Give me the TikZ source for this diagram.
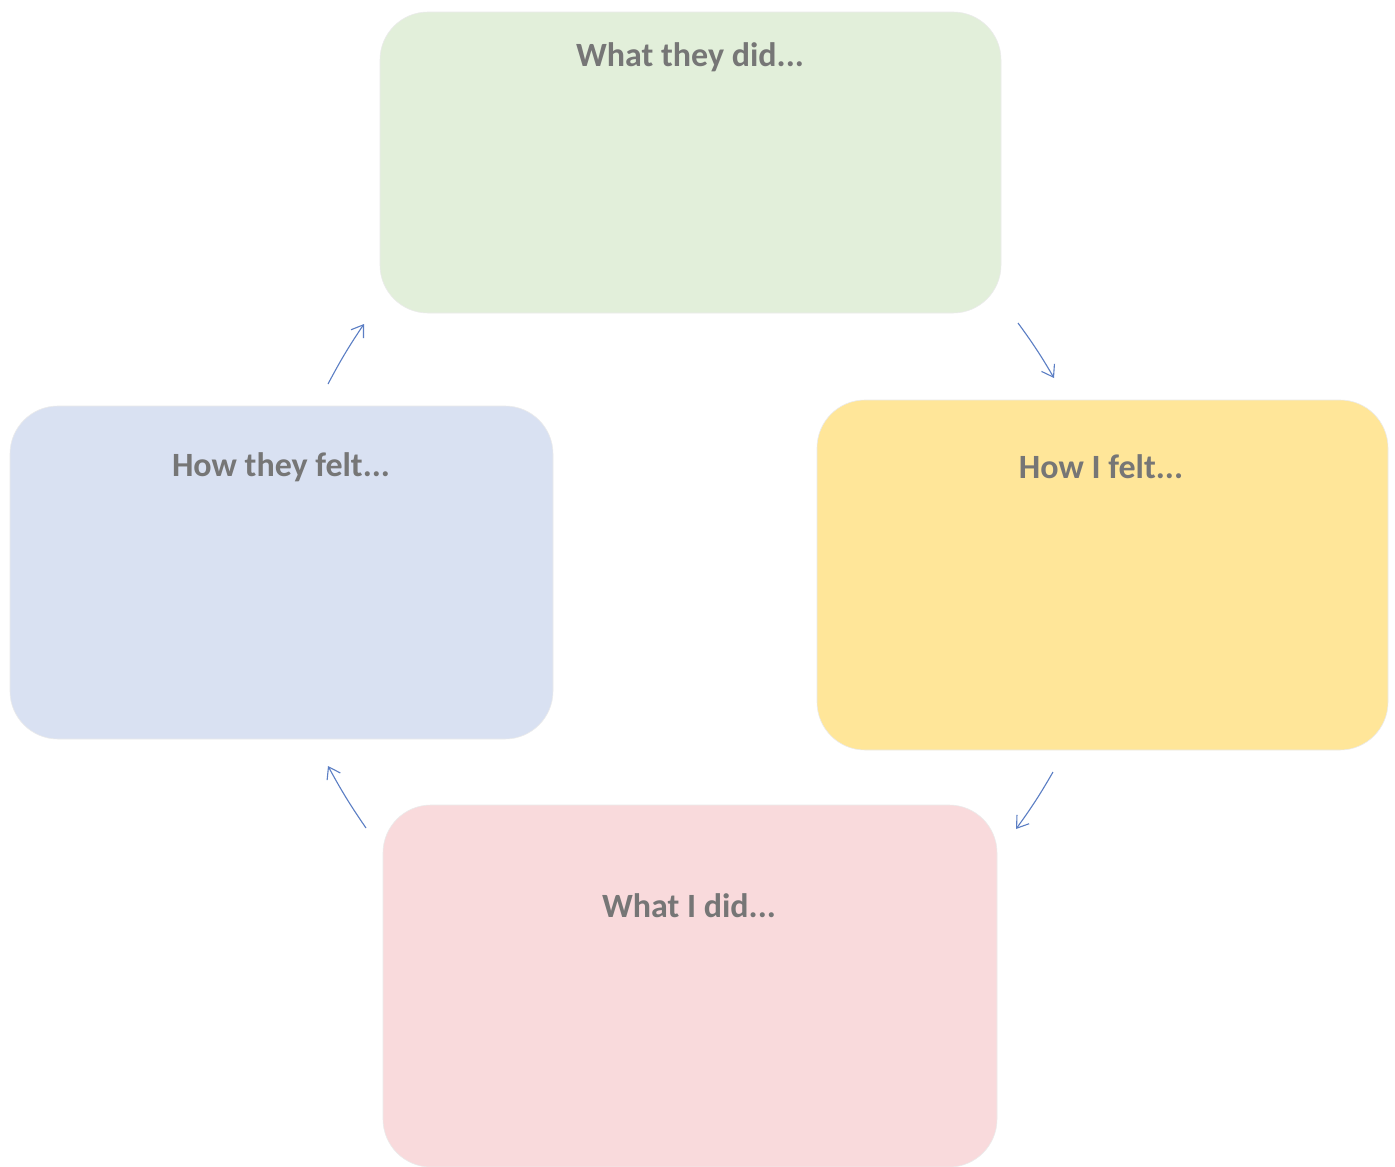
\documentclass[tikz,border=0pt]{standalone}
\usepackage{fontspec}
\setmainfont{Carlito}
\usetikzlibrary{arrows.meta}
\definecolor{boxgreen}{HTML}{E2EFDA}
\definecolor{boxblue}{HTML}{D9E1F2}
\definecolor{boxyellow}{HTML}{FFE699}
\definecolor{boxpink}{HTML}{F9DADC}
\definecolor{txtgrey}{HTML}{767676}
\definecolor{arrblue}{HTML}{5B7EC4}
\tikzset{
  card/.style={rounded corners=48pt, inner sep=0pt, draw=white!92!black, line width=0.6pt},
  cardtitle/.style={font=\bfseries\fontsize{34}{38}\selectfont, text=txtgrey, inner sep=0pt, anchor=base},
  flow/.style={draw=arrblue, line width=1.1pt, -{Straight Barb[length=11pt,width=15pt]}, bend left=3}
}
\begin{document}
\begin{tikzpicture}[x=1pt,y=-1pt]
\useasboundingbox[fill=white] (0,0) rectangle (1395,1167);
\node[card, fill=boxgreen, minimum width=621pt, minimum height=301pt] (green) at (690.5,162.5) {};
\node[card, fill=boxblue, minimum width=543pt, minimum height=333pt] (blue) at (281.5,572.5) {};
\node[card, fill=boxyellow, minimum width=571pt, minimum height=350pt] (yellow) at (1102.5,575) {};
\node[card, fill=boxpink, minimum width=614pt, minimum height=362pt] (pink) at (690,986) {};
\node[cardtitle] (tgreen) at (690,66) {What they did...};
\node[cardtitle] (tblue) at (281,476) {How they felt...};
\node[cardtitle] (tyellow) at (1101,478) {How I felt...};
\node[cardtitle] (tpink) at (689,917) {What I did...};
\coordinate (a1s) at (1018,323); \coordinate (a1e) at (1054,378);
\coordinate (a2s) at (1053,772); \coordinate (a2e) at (1016,829);
\coordinate (a3s) at (366,828); \coordinate (a3e) at (328,766);
\coordinate (a4s) at (328,384); \coordinate (a4e) at (364,324);
\draw[flow] (a1s) to (a1e);
\draw[flow] (a2s) to (a2e);
\draw[flow] (a3s) to (a3e);
\draw[flow] (a4s) to (a4e);
\end{tikzpicture}
\end{document}
